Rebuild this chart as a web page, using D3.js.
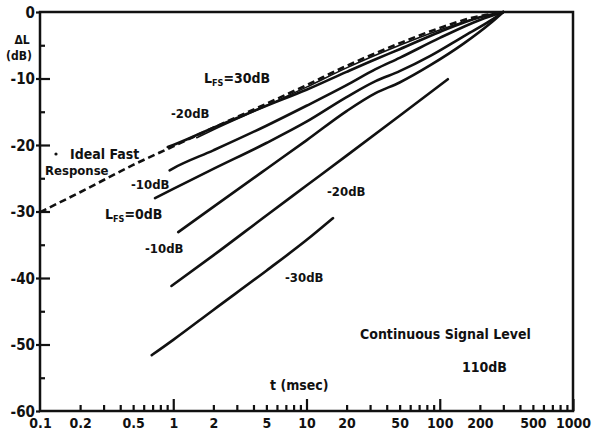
<!DOCTYPE html>
<html><head><meta charset="utf-8">
<script src="https://cdn.jsdelivr.net/npm/d3@7"></script>
<style>
html,body{margin:0;padding:0;background:#fff;}
svg{display:block;}
text{font-family:"Liberation Sans Narrow","DejaVu Sans Condensed","Liberation Sans",Arial,sans-serif;fill:#111;}
</style></head>
<body>
<svg id="c" width="596" height="435"></svg>
<script>
// ---- data ----
const xTickValues = [0.1,0.2,0.5,1,2,5,10,20,50,100,200,500,1000];
const xTickLabels = ["0.1","0.2","0.5","1","2","5","10","20","50","100","200","500","1000"];
const xMinorTicks = [0.2,0.3,0.4,0.5,0.6,0.7,0.8,0.9,2,3,4,5,6,7,8,9,20,30,40,50,60,70,80,90,200,300,400,500,600,700,800,900];
const xMajorTicks = [1,10,100,1000];
const yTickValues = [0,-10,-20,-30,-40,-50,-60];
const yTickLabels = ["0","-10","-20","-30","-40","-50","-60"];
const yMinorTicks = [-5,-15,-25,-35,-45,-55];

const idealT  = [0.1,0.2,0.5,1,2,5,10,20,50,100,200,300];
const idealDB = [-30.1,-27.1,-23.0,-20.2,-17.4,-13.8,-11.0,-8.1,-4.7,-2.4,-0.6,-0.1];
const l30T  = [1.5,2,5,10,20,50,100,200,300];
const l30DB = [-18.9,-17.7,-14.1,-11.3,-8.4,-5.0,-2.7,-0.8,0];
const l20T  = [0.91,1,2,5,10,20,33,50,100,200,300];
const l20DB = [-20.3,-20.0,-17.4,-14.1,-11.7,-9.0,-7.1,-5.6,-3.0,-0.8,0];
const l10T  = [0.94,1,2,5,10,20,33,50,100,200,300];
const l10DB = [-23.8,-23.5,-20.8,-17.1,-14.1,-11.0,-8.6,-6.9,-3.9,-1.2,0];
const l0T   = [0.73,1,2,5,10,20,33,50,85,150,240,300];
const l0DB  = [-28.0,-26.6,-23.6,-19.7,-16.5,-12.8,-10.4,-8.9,-6.6,-3.7,-1.3,0];
const lm10T  = [1.09,2,5,10,20,33,50,85,150,240,300];
const lm10DB = [-33.1,-29.3,-23.6,-19.3,-14.9,-12.2,-10.6,-8.0,-4.8,-1.7,0];
const lm20T  = [0.97,2,5,10,20,50,115];
const lm20DB = [-41.2,-36.6,-30.6,-26.1,-21.6,-15.6,-10.1];
const lm30T  = [0.69,1,2,5,10,15.8];
const lm30DB = [-51.6,-49.3,-44.8,-38.9,-34.3,-31.0];

// ---- chart ----
const svg = d3.select("#c");
const x = d3.scaleLog().domain([0.1,1000]).range([40,573]);
const y = d3.scaleLinear().domain([-60,0]).range([411,12]);

const zip = (T,V) => T.map((t,i)=>({t:t,v:V[i]}));
const line = d3.line().x(d=>x(d.t)).y(d=>y(d.v)).curve(d3.curveMonotoneX);

// frame
svg.append("rect").attr("x",x(0.1)).attr("y",y(0)).attr("width",x(1000)-x(0.1)).attr("height",y(-60)-y(0))
  .attr("fill","none").attr("stroke","#111").attr("stroke-width",2.5);

// x axis ticks (inward)
const gx = svg.append("g").attr("transform",`translate(0,${y(-60)})`);
gx.call(d3.axisBottom(x).tickValues(xMinorTicks).tickSize(-6).tickFormat(""));
gx.call(g=>g.select(".domain").remove());
const gx2 = svg.append("g").attr("transform",`translate(0,${y(-60)})`);
gx2.call(d3.axisBottom(x).tickValues(xMajorTicks).tickSize(-12).tickFormat(""));
gx2.call(g=>g.select(".domain").remove());
const gxl = svg.append("g").attr("transform",`translate(0,${y(-60)})`);
gxl.call(d3.axisBottom(x).tickValues(xTickValues).tickSize(0).tickPadding(7)
  .tickFormat((d,i)=>xTickLabels[i]));
gxl.call(g=>g.select(".domain").remove());
gxl.selectAll("text").attr("font-size",14).attr("font-weight","bold");

// y axis
const gy = svg.append("g").attr("transform",`translate(${x(0.1)},0)`);
gy.call(d3.axisLeft(y).tickValues(yTickValues).tickSize(4).tickPadding(1).tickFormat((d,i)=>yTickLabels[i]));
gy.call(g=>g.select(".domain").remove());
gy.selectAll("text").attr("font-size",15).attr("font-weight","bold").attr("dy","0.35em");
const gy2 = svg.append("g").attr("transform",`translate(${x(0.1)},0)`);
gy2.call(d3.axisRight(y).tickValues(yTickValues.filter(d=>d>-60&&d<0)).tickSize(10).tickFormat(""));
gy2.call(g=>g.select(".domain").remove());
const gy3 = svg.append("g").attr("transform",`translate(${x(0.1)},0)`);
gy3.call(d3.axisRight(y).tickValues(yMinorTicks).tickSize(5).tickFormat(""));
gy3.call(g=>g.select(".domain").remove());
svg.selectAll("g line").attr("stroke","#111").attr("stroke-width",2.2);

// curves
const series = [
  {d:zip(l30T,l30DB)}, {d:zip(l20T,l20DB)}, {d:zip(l10T,l10DB)}, {d:zip(l0T,l0DB)},
  {d:zip(lm10T,lm10DB)}, {d:zip(lm20T,lm20DB)}, {d:zip(lm30T,lm30DB)}
];
svg.append("g").selectAll("path").data(series).join("path")
  .attr("d",s=>line(s.d)).attr("fill","none").attr("stroke","#111")
  .attr("stroke-width",(s,i)=>i===0?1.6:2.6).attr("stroke-linecap","round");
svg.append("path").attr("d",line(zip(idealT,idealDB))).attr("fill","none").attr("stroke","#111")
  .attr("stroke-width",2.6).attr("stroke-dasharray","7,4");

// labels
function txt(xp,yp,s,size,anchor){
  return svg.append("text").attr("x",xp).attr("y",yp).attr("font-size",size||14)
    .attr("font-weight","bold").attr("text-anchor",anchor||"start").text(s);
}
function lfs(xp,yp,rest){
  const t = svg.append("text").attr("x",xp).attr("y",yp).attr("font-size",14).attr("font-weight","bold");
  t.append("tspan").text("L");
  t.append("tspan").attr("font-size",9).attr("dy",3).text("FS");
  t.append("tspan").attr("dy",-3).text(rest);
}
lfs(204,83,"=30dB");
txt(171,118,"-20dB",13);
txt(70,159,"Ideal Fast",14);
txt(45,175,"Response",13);
svg.append("circle").attr("cx",56).attr("cy",154).attr("r",1.6).attr("fill","#111");
txt(131,189,"-10dB",13);
lfs(105,219,"=0dB");
txt(145,253,"-10dB",13);
txt(327,196,"-20dB",13);
txt(285,282,"-30dB",13);
txt(270,390,"t (msec)",14);
txt(360,339,"Continuous Signal Level",14);
txt(462,372,"110dB",14);
// y label
txt(22,44,"ΔL",12,"middle");
txt(19,60,"(dB)",12,"middle");
</script>
</body></html>
